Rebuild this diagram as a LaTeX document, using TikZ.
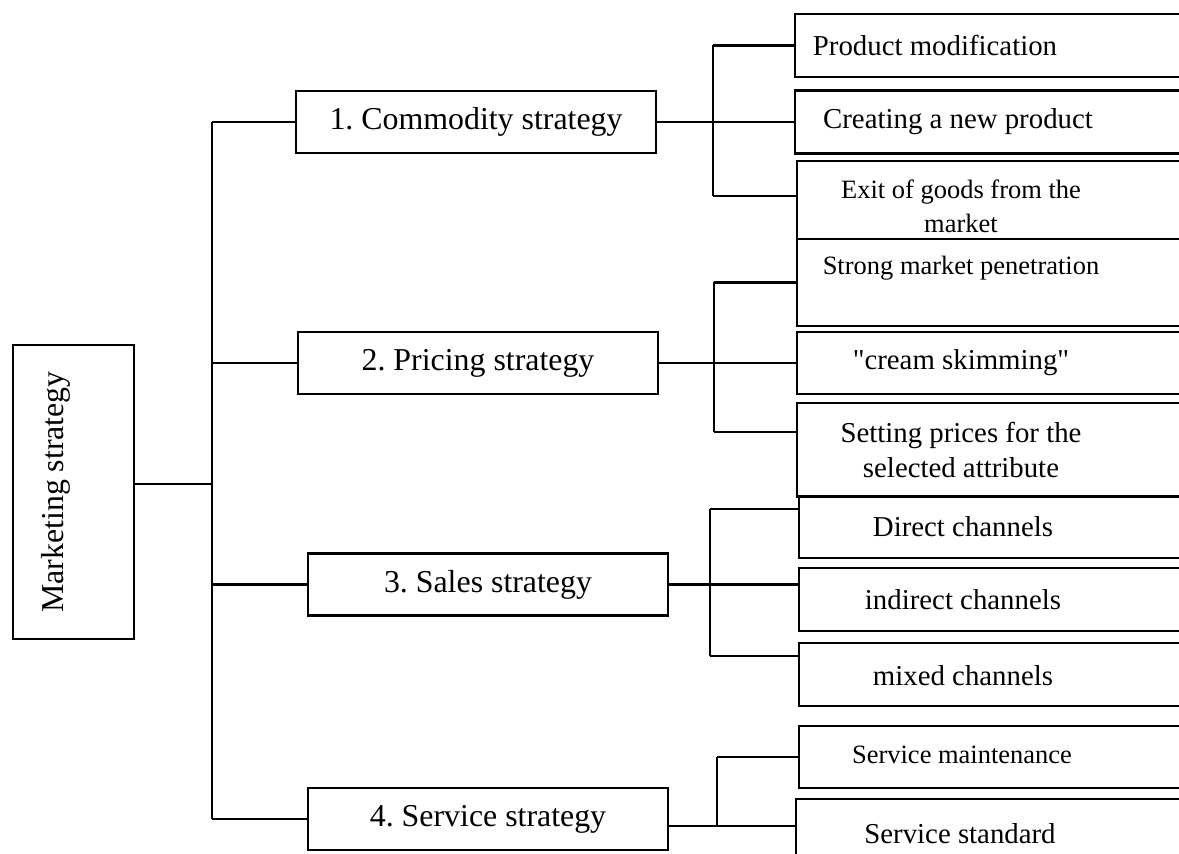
\documentclass[tikz,border=0pt]{standalone}
\usepackage{fontspec}
\setmainfont{Liberation Serif}
\usetikzlibrary{calc}
\frenchspacing

\begin{document}
\begin{tikzpicture}[
    x=0.015cm, y=-0.015cm,
    line width=0.9pt,
    rootbox/.style={draw, minimum width=1.815cm, minimum height=4.41cm, inner sep=0pt},
    mainbox/.style={draw, minimum width=5.4cm, minimum height=0.93cm, inner sep=0pt,
      font=\fontsize{13.6}{16}\selectfont},
    subbox/.style={draw, anchor=west, minimum width=8cm, minimum height=#1, inner sep=0pt},
    subtext/.style={align=center, inner sep=0pt, font=\fontsize{12.3}{15}\selectfont},
    smalltext/.style={align=center, inner sep=0pt, font=\fontsize{11.3}{14.5}\selectfont},
  ]
  \useasboundingbox (0,0) rectangle (1179,854);
  \clip (0,0) rectangle (1179,854);

  % Root
  \node[rootbox] (root) at (73.5,492) {};
  \node[rotate=90, inner sep=0pt, font=\fontsize{13.6}{16}\selectfont] (roottext) at (56,492)
    {Marketing strategy};

  % Strategies
  \node[mainbox] (comm)  at (476,122) {1. Commodity strategy};
  \node[mainbox] (price) at (478,363) {2. Pricing strategy};
  \node[mainbox] (sales) at (488,584.5) {3. Sales strategy};
  \node[mainbox] (serv)  at (488,819) {4. Service strategy};

  % Commodity strategy options
  \node[subbox=0.945cm] (prodmod) at (794,45.5) {};
  \node[subbox=0.945cm] (newprod) at (794,122) {};
  \node[subbox=1.17cm]  (exit)    at (796,200) {};
  \node[subtext]   (prodmodt) at (935,45.5) {Product modification};
  \node[subtext]   (newprodt) at (958,122) {Creating a new product};
  \node[smalltext] (exitt)    at (961,206) {Exit of goods from the\\market};

  % Pricing strategy options
  \node[subbox=1.305cm] (strong)  at (796,282.5) {};
  \node[subbox=0.93cm]  (cream)   at (796,363) {};
  \node[subbox=1.41cm]  (setting) at (796,450) {};
  \node[smalltext] (strongt)  at (961,268) {Strong market penetration};
  \node[subtext]   (creamt)   at (961,363) {\textquotedbl cream skimming\textquotedbl};
  \node[subtext]   (settingt) at (961,450) {Setting prices for the\\selected attribute};

  % Sales strategy options
  \node[subbox=0.93cm]  (direct)   at (798,527) {};
  \node[subbox=0.945cm] (indirect) at (798,599.5) {};
  \node[subbox=0.945cm] (mixed)    at (798,674.5) {};
  \node[subtext] (directt)   at (963,527) {Direct channels};
  \node[subtext] (indirectt) at (963,599.5) {indirect channels};
  \node[subtext] (mixedt)    at (963,676) {mixed channels};

  % Service strategy options
  \node[subbox=0.93cm]  (maint) at (798,757) {};
  \node[subbox=1.065cm] (std)   at (795,834.5) {};
  \node[smalltext] (maintt) at (962,755) {Service maintenance};
  \node[subtext]   (stdt)   at (960,834) {Service standard};

  % Trunk
  \coordinate (trunk) at (212,0);
  \draw ($(root.east)+(0,-8)$) -- ($(root.east -| trunk)+(0,-8)$);
  \draw (trunk |- comm.west) -- (trunk |- serv.west);
  \foreach \s in {comm,price,sales,serv}
    \draw (trunk |- \s.west) -- (\s.west);

  % Brackets
  \coordinate (b1t) at (713,45.5);
  \coordinate (b1b) at (713,196);
  \draw (b1t) -- (b1b);
  \draw (b1t) -- (b1t -| prodmod.west);
  \draw (comm.east) -- (newprod.west);
  \draw (b1b) -- (b1b -| exit.west);

  \coordinate (b2t) at (714,282.5);
  \coordinate (b2b) at (714,432);
  \draw (b2t) -- (b2b);
  \draw (b2t) -- (b2t -| strong.west);
  \draw (price.east) -- (cream.west);
  \draw (b2b) -- (b2b -| setting.west);

  \coordinate (b3t) at (710,509);
  \coordinate (b3b) at (710,656);
  \draw (b3t) -- (b3b);
  \draw (b3t) -- (b3t -| direct.west);
  \draw (sales.east) -- (sales.east -| indirect.west);
  \draw (b3b) -- (b3b -| mixed.west);

  \coordinate (b4t) at (717,757);
  \coordinate (b4b) at (717,826);
  \draw (b4t) -- (b4b);
  \draw (b4t) -- (maint.west);
  \draw (serv.east |- b4b) -- (b4b -| std.west);
\end{tikzpicture}
\end{document}
